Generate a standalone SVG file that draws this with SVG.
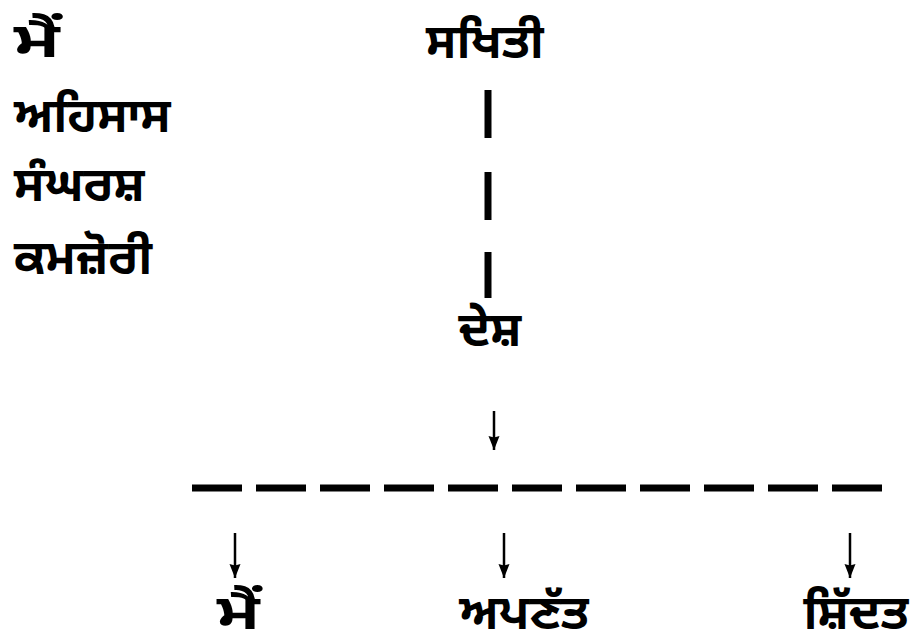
<svg xmlns="http://www.w3.org/2000/svg" width="911" height="641" viewBox="0 0 911 641">
<style>
.t{font-family:"Noto Sans Gurmukhi","Lohit Gurmukhi","Noto Sans","DejaVu Sans",sans-serif;font-size:48px;font-weight:bold;fill:#000}
.bar{stroke:#000;stroke-width:7;fill:none}
.arr{stroke:#000;stroke-width:2.5;fill:none;marker-end:url(#ah)}
</style>
<defs>
<marker id="ah" markerWidth="14" markerHeight="12" refX="14" refY="6" orient="auto" markerUnits="userSpaceOnUse" viewBox="0 0 14 12">
<path d="M0,0.5 L14,6 L0,11.5 L1.5,6 Z" fill="#000"/>
</marker>
</defs>
<rect width="911" height="641" fill="#fff"/>
<g id="left-list">
<text class="t" x="14" y="57" textLength="46" lengthAdjust="spacingAndGlyphs">ਮੈਂ</text>
<text class="t" x="14" y="132">ਅਹਿਸਾਸ</text>
<text class="t" x="14" y="201">ਸੰਘਰਸ਼</text>
<text class="t" x="14" y="274">ਕਮਜ਼ੋਰੀ</text>
</g>
<g id="node-sakhti"><text class="t" x="485" y="58" text-anchor="middle">ਸਖਿਤੀ</text></g>
<g id="node-desh"><text class="t" x="490" y="346" text-anchor="middle">ਦੇਸ਼</text></g>
<g id="node-main"><text class="t" x="217" y="629" textLength="43" lengthAdjust="spacingAndGlyphs">ਮੈਂ</text></g>
<g id="node-apnatt"><text class="t" x="524" y="629" text-anchor="middle">ਅਪਣੱਤ</text></g>
<g id="node-shiddat"><text class="t" x="856" y="629" text-anchor="middle">ਸ਼ਿੱਦਤ</text></g>
<g id="connectors">
<line class="bar" x1="488" y1="90" x2="488" y2="138"/>
<line class="bar" x1="488" y1="172" x2="488" y2="220"/>
<line class="bar" x1="488" y1="252" x2="488" y2="298"/>
<line class="arr" x1="494" y1="411" x2="494" y2="450"/>
<line x1="192" y1="488" x2="884" y2="488" stroke="#000" stroke-width="7" stroke-dasharray="50 14"/>
<line class="arr" x1="235" y1="533" x2="235" y2="578"/>
<line class="arr" x1="504" y1="533" x2="504" y2="578"/>
<line class="arr" x1="850" y1="533" x2="850" y2="578"/>
</g>
</svg>
